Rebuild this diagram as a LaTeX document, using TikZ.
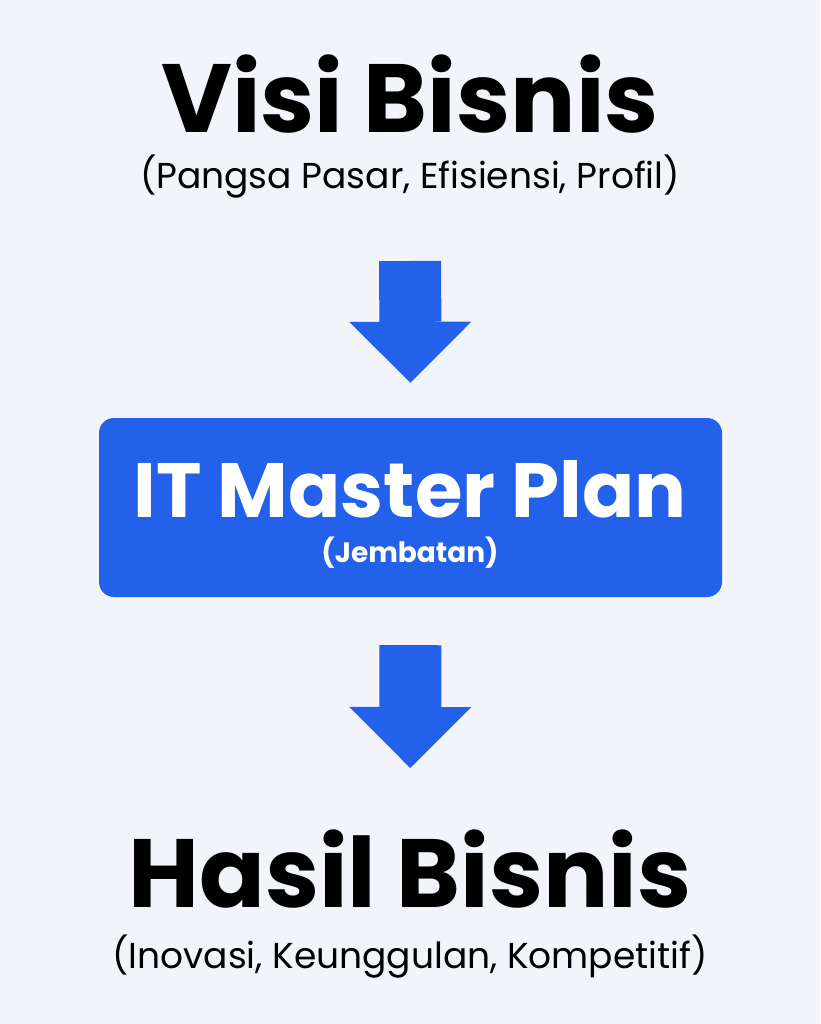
\documentclass[tikz,border=0pt]{standalone}
\usepackage{fontspec}
\setmainfont{Poppins}
\usetikzlibrary{arrows.meta}

\definecolor{bgpage}{HTML}{F1F4F9}
\definecolor{planblue}{HTML}{2461EA}

\begin{document}
\begin{tikzpicture}[x=1pt,y=-1pt,
    title/.style={anchor=base,inner sep=0pt,font=\fontsize{97}{97}\selectfont\bfseries},
    subtitle/.style={anchor=base,inner sep=0pt,font=\fontsize{36}{36}\selectfont},
    planbox/.style={fill=planblue,rounded corners=15pt,minimum width=623pt,minimum height=179pt,inner sep=0pt},
    fatarrow/.style={draw=planblue,line width=62pt,-{Triangle[length=61pt,width=122pt,line width=0pt]}}]
  \fill[bgpage] (0,0) rectangle (820,1024);
  \useasboundingbox (0,0) rectangle (820,1024);

  \node[title] (visi) at (410,133) {Visi Bisnis};
  \node[subtitle] (visisub) at (410,189) {(Pangsa Pasar, Efisiensi, Profil)};

  \node[planbox] (plan) at (410.5,507.5) {};
  \node[anchor=base,inner sep=0pt,text=white,font=\fontsize{77}{77}\selectfont\bfseries] (plantitle) at (410,517) {IT Master Plan};
  \node[anchor=base,inner sep=0pt,text=white,font=\fontsize{28}{28}\selectfont\bfseries] (plansub) at (410,562) {(Jembatan)};

  \node[title] (hasil) at (410,907) {Hasil Bisnis};
  \node[subtitle] (hasilsub) at (410,968) {(Inovasi, Keunggulan, Kompetitif)};

  \draw[fatarrow,shorten <=72pt,shorten >=35pt] (visisub.base) -- (plan.north);
  \draw[fatarrow,shorten <=48pt,shorten >=139pt] (plan.south) -- (hasil.base);
\end{tikzpicture}
\end{document}
